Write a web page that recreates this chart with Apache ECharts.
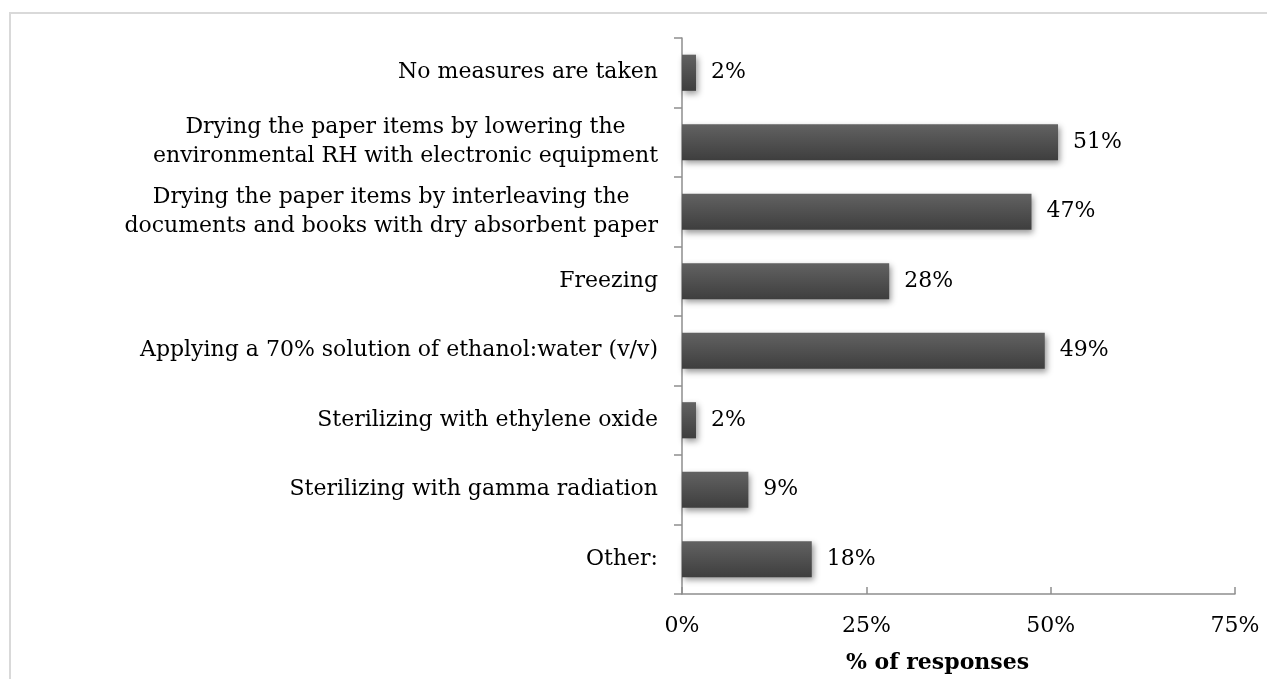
<!DOCTYPE html>
<html>
<head>
<meta charset="utf-8">
<script src="https://cdn.jsdelivr.net/npm/echarts@6/dist/echarts.min.js"></script>
<style>
  html, body { margin: 0; padding: 0; background: #fff; }
  #chart { width: 1267px; height: 679px; }
</style>
</head>
<body>
<div id="chart"></div>
<script>
  // categories top to bottom
  var categories = [
    'No measures are taken',
    'Drying the paper items by lowering the\nenvironmental RH with electronic equipment',
    'Drying the paper items by interleaving the\ndocuments and books with dry absorbent paper',
    'Freezing',
    'Applying a 70% solution of ethanol:water (v/v)',
    'Sterilizing with ethylene oxide',
    'Sterilizing with gamma radiation',
    'Other:'
  ]
  // % of responses
  var responses = [1.9, 51.0, 47.4, 28.1, 49.2, 1.9, 9.0, 17.6]
  var xTicks = [0, 25, 50, 75]

  var labelFont = 'DejaVu Serif'
  var fs = 22
  var myChart = echarts.init(document.getElementById('chart'))
  myChart.setOption({
    animation: false,
    graphic: [{
      type: 'rect',
      z: -1,
      shape: { x: 10, y: 13, width: 1400, height: 800 },
      style: { fill: 'none', stroke: '#d9d9d9', lineWidth: 2 }
    }],
    grid: { left: 682, right: 32, top: 38, bottom: 84 },
    xAxis: {
      type: 'value',
      min: xTicks[0],
      max: xTicks[xTicks.length - 1],
      interval: 25,
      name: '% of responses',
      nameLocation: 'middle',
      nameGap: 58,
      nameTextStyle: {
        fontFamily: labelFont, fontWeight: 'bold', fontSize: 22, color: '#000',
        padding: [0, 42, 0, 0] // title sits a bit left of the axis middle
      },
      splitLine: { show: false },
      axisLine: { show: true, lineStyle: { color: '#8e8e8e', width: 1.5 } },
      axisTick: { show: true, inside: true, length: 7, lineStyle: { color: '#8e8e8e', width: 1.5 } },
      axisLabel: {
        margin: 21,
        fontFamily: labelFont,
        fontSize: fs,
        color: '#000',
        formatter: '{value}%'
      }
    },
    yAxis: {
      type: 'category',
      inverse: true,
      data: categories,
      axisLine: { show: true, lineStyle: { color: '#8e8e8e', width: 1.5 } },
      axisTick: { show: true, length: 8, lineStyle: { color: '#8e8e8e', width: 1.5 } },
      axisLabel: {
        margin: 24,
        formatter: function (v) { return '{c|' + v + '}' },
        rich: {
          c: { align: 'center', fontFamily: labelFont, fontSize: fs, lineHeight: 29, color: '#000' }
        }
      }
    },
    series: [{
      type: 'bar',
      data: responses,
      barCategoryGap: '48%',
      itemStyle: {
        color: {
          type: 'linear', x: 0, y: 0, x2: 0, y2: 1,
          colorStops: [{ offset: 0, color: '#626262' }, { offset: 1, color: '#3e3e3e' }]
        },
        shadowBlur: 6,
        shadowOffsetX: 2,
        shadowOffsetY: 3,
        shadowColor: 'rgba(0,0,0,0.4)'
      },
      label: {
        show: true,
        position: 'right',
        distance: 15,
        fontFamily: labelFont,
        fontSize: fs,
        color: '#000',
        formatter: function (p) { return Math.round(p.value) + '%' }
      }
    }]
  })
</script>
</body>
</html>
